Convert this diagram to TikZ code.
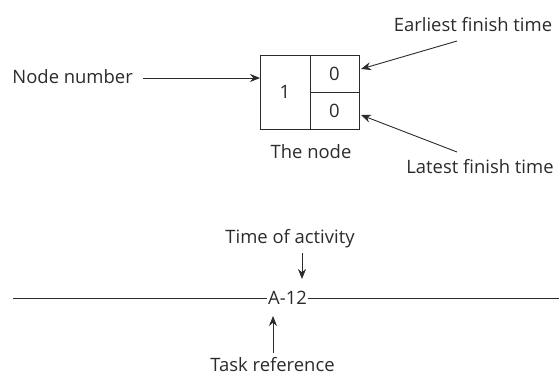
\documentclass[tikz,border=0pt]{standalone}
\usepackage{fontspec}
\setmainfont{Open Sans}
\usetikzlibrary{arrows.meta}
\definecolor{ink}{HTML}{2B2B2B}
\begin{document}
\begin{tikzpicture}[x=1bp,y=-1bp,
  lbl/.style={font=\fontsize{18.5}{22}\selectfont,text=ink,inner sep=0pt},
  conn/.style={draw=ink,line width=0.9bp,-{Stealth[length=10bp,width=8bp]}},
  plain/.style={draw=ink,line width=0.9bp}]
\useasboundingbox (0,0) rectangle (559,379);
% node box
\draw[plain] (260,55) rectangle (359,129);
\draw[plain] (310,55) -- (310,129);
\draw[plain] (310,92) -- (359,92);
\coordinate (boxL) at (260,78);
\coordinate (efT) at (361,69);
\coordinate (lfT) at (361,115);
\node[lbl] (one) at (285,92) {1};
\node[lbl] (ef0) at (334.5,73.5) {0};
\node[lbl] (lf0) at (334.5,110.5) {0};
\node[lbl,anchor=east] (nn) at (133,77) {Node number};
\node[lbl] (ef) at (473,25) {Earliest finish time};
\node[lbl] (lf) at (480,167) {Latest finish time};
\node[lbl] (tn) at (311,152) {The node};
\coordinate (nnS) at (143,78);
\coordinate (efS) at (457,41);
\coordinate (lfS) at (457,152);
\draw[conn] (nnS) -- (boxL);
\draw[conn] (efS) -- (efT);
\draw[conn] (lfS) -- (lfT);
% activity line
\node[lbl,inner xsep=1bp] (a12) at (287.5,298) {A-12};
\coordinate (lineL) at (13,298);
\coordinate (lineR) at (559,298);
\draw[plain] (lineL) -- (a12.west);
\draw[plain] (a12.east) -- (lineR);
\node[lbl] (toa) at (290,239) {Time of activity};
\node[lbl] (tr) at (272.5,365) {Task reference};
\coordinate (toaS) at (302,253);
\coordinate (toaE) at (302,279);
\coordinate (trS) at (273,353);
\coordinate (trE) at (273,316);
\draw[conn] (toaS) -- (toaE);
\draw[conn] (trS) -- (trE);
\end{tikzpicture}
\end{document}
